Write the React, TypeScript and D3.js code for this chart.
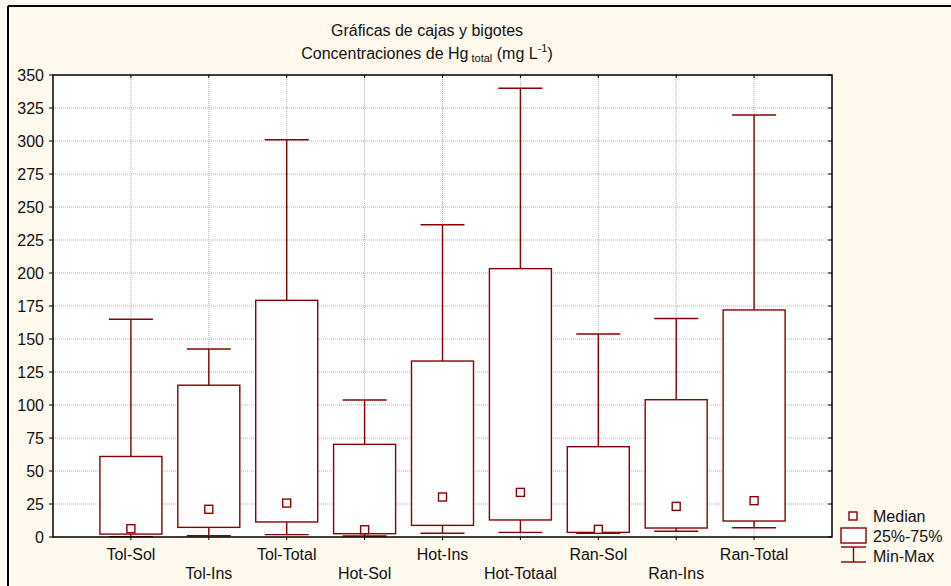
import React from "react";
import * as d3 from "d3";

const categories = ["Tol-Sol", "Tol-Ins", "Tol-Total", "Hot-Sol", "Hot-Ins", "Hot-Totaal", "Ran-Sol", "Ran-Ins", "Ran-Total"];
const minValues = [0.3, 1, 1.8, 0.8, 2.8, 3.5, 2.8, 4.3, 7];
const q1Values = [2.2, 7.3, 11.4, 2.5, 8.8, 12.9, 3.5, 6.8, 12.1];
const medianValues = [6.3, 21, 25.7, 5.5, 30.3, 33.8, 5.8, 23.2, 27.5];
const q3Values = [61, 115, 179.3, 70.2, 133.3, 203.3, 68.4, 104, 172];
const maxValues = [165, 142.4, 301, 103.8, 236.6, 340, 153.8, 165.5, 319.7];
const yTicks = [0, 25, 50, 75, 100, 125, 150, 175, 200, 225, 250, 275, 300, 325, 350];
const legendLabels = ["Median", "25%-75%", "Min-Max"];

const W = 951;
const H = 586;
const left = 53;
const right = 832;
const top = 75;
const bottom = 537;
const RED = "#8b0000";
const FONT = "'Liberation Sans', Arial, sans-serif";

export default function App() {
  const x = d3.scaleLinear().domain([0, categories.length + 1]).range([left, right]);
  const y = d3.scaleLinear().domain([0, 350]).range([bottom, top]);
  const boxW = 62;
  const capW = 44;
  const medS = 8;

  return (
    <svg width={W} height={H} style={{ position: "absolute", left: 0, top: 0 }} fontFamily={FONT}>
      <rect x={0} y={0} width={W} height={H} fill="#fff9ee" />
      <line x1={8} y1={6} x2={W} y2={6} stroke="#000" strokeWidth={2} />
      <line x1={8} y1={6} x2={8} y2={H} stroke="#000" strokeWidth={2} />
      <text x={427} y={36} textAnchor="middle" fontSize={16} fill="#111">Gráficas de cajas y bigotes</text>
      <text x={427} y={59} textAnchor="middle" fontSize={16} fill="#111">
        Concentraciones de Hg<tspan fontSize={11} dy={3}> total</tspan>
        <tspan dy={-3}> (mg L</tspan>
        <tspan fontSize={11} dy={-7}>-1</tspan>
        <tspan dy={7}>)</tspan>
      </text>
      <rect x={left} y={top} width={right - left} height={bottom - top} fill="#fff" />
      {/* grid */}
      {yTicks.filter((t) => t > 0 && t < 350).map((t) => (
        <line key={"gy" + t} x1={left} x2={right} y1={y(t)} y2={y(t)} stroke="#b0b0b0" strokeWidth={1} strokeDasharray="1,1" />
      ))}
      {categories.map((c, i) => (
        <line key={"gx" + c} x1={x(i + 1)} x2={x(i + 1)} y1={top} y2={bottom} stroke="#b0b0b0" strokeWidth={1} strokeDasharray="1,1" />
      ))}
      {/* axis ticks */}
      {yTicks.map((t) => (
        <g key={"yt" + t}>
          <line x1={left - 4} x2={left} y1={y(t)} y2={y(t)} stroke="#000" />
          <line x1={right - 4} x2={right} y1={y(t)} y2={y(t)} stroke="#000" />
          <text x={44} y={y(t) + 6} textAnchor="end" fontSize={16} fill="#111">{t}</text>
        </g>
      ))}
      {categories.map((c, i) => (
        <g key={"xt" + c}>
          <line x1={x(i + 1)} x2={x(i + 1)} y1={top} y2={top + 3} stroke="#000" />
          <line x1={x(i + 1)} x2={x(i + 1)} y1={bottom} y2={bottom + 3} stroke="#000" />
          <text x={x(i + 1)} y={i % 2 === 0 ? 560 : 579} textAnchor="middle" fontSize={16} fill="#111">{c}</text>
        </g>
      ))}
      {/* boxes */}
      {categories.map((c, i) => {
        const cx = x(i + 1);
        return (
          <g key={"b" + c} stroke={RED} strokeWidth={1.4} fill="none">
            <line x1={cx} x2={cx} y1={y(maxValues[i])} y2={y(q3Values[i])} />
            <line x1={cx} x2={cx} y1={y(q1Values[i])} y2={y(minValues[i])} />
            <line x1={cx - capW / 2} x2={cx + capW / 2} y1={y(maxValues[i])} y2={y(maxValues[i])} />
            <line x1={cx - capW / 2} x2={cx + capW / 2} y1={y(minValues[i])} y2={y(minValues[i])} />
            <rect x={cx - boxW / 2} y={y(q3Values[i])} width={boxW} height={y(q1Values[i]) - y(q3Values[i])} fill="#fff" />
            <rect x={cx - medS / 2} y={y(medianValues[i]) - medS / 2} width={medS} height={medS} fill="#fff" />
          </g>
        );
      })}
      <rect x={left} y={top} width={right - left} height={bottom - top} fill="none" stroke="#000" strokeWidth={1.5} />
      {/* legend */}
      <g stroke={RED} strokeWidth={1.4} fill="none">
        <rect x={849} y={512} width={8} height={8} fill="#fff" />
        <rect x={841} y={528} width={25} height={15} fill="#fff" />
        <line x1={841} x2={866} y1={547} y2={547} />
        <line x1={841} x2={866} y1={562} y2={562} />
        <line x1={853.5} x2={853.5} y1={547} y2={562} />
      </g>
      {legendLabels.map((l, i) => (
        <text key={l} x={873} y={522 + i * 20} fontSize={16} fill="#111">{l}</text>
      ))}
    </svg>
  );
}
